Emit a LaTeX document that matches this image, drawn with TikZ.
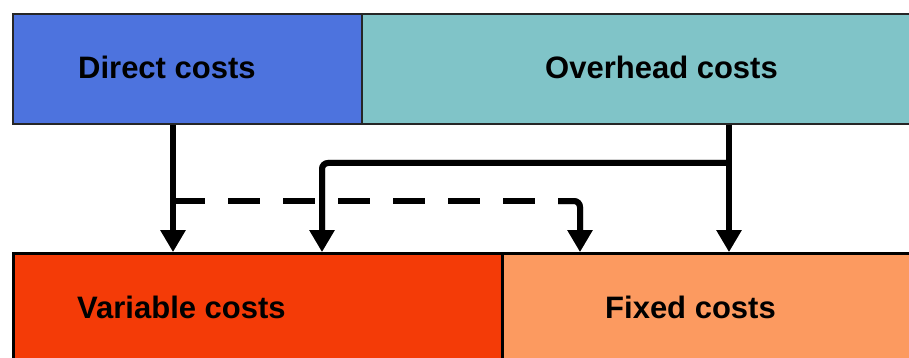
\documentclass[tikz,border=0pt]{standalone}
\usepackage{fontspec}
\setmainfont{Liberation Sans}
\usetikzlibrary{arrows.meta}
\definecolor{dblue}{RGB}{77,115,222}
\definecolor{oteal}{RGB}{128,196,200}
\definecolor{vred}{RGB}{244,59,7}
\definecolor{forange}{RGB}{252,154,96}
\definecolor{shadowgray}{RGB}{140,140,140}
\begin{document}
\begin{tikzpicture}[x=1pt,y=-1pt,
  box/.style={draw=black!85, line width=2pt, anchor=north west, inner sep=0pt, minimum height=110pt},
  lbl/.style={anchor=base west, inner sep=0pt, font=\fontsize{31}{36}\selectfont\bfseries},
  conn/.style={line width=6pt, line cap=butt},
  tipst/.style={-{Triangle[width=24pt,length=22pt]}},
  shadow/.style={preaction={draw=shadowgray, transform canvas={shift={(2.5pt,-2.5pt)}}}},
  dashst/.style={dash pattern=on 32pt off 23pt}
]
\useasboundingbox (0,0) rectangle (909,358);
\fill[white] (0,0) rectangle (909,358);
% boxes
\node[box, fill=dblue, minimum width=349pt] (direct) at (12,13) {};
\node[box, fill=oteal, minimum width=560pt] (overhead) at (361,13) {};
\node[box, fill=vred, minimum width=489pt, draw=black, line width=3pt] (variable) at (12,252) {};
\node[box, fill=forange, minimum width=420pt, draw=black, line width=3pt] (fixed) at (501,252) {};
% labels
\node[lbl] (tdirect) at (78,79) {Direct costs};
\node[lbl] (toverhead) at (545,79) {Overhead costs};
\node[lbl] (tvariable) at (77,318) {Variable costs};
\node[lbl] (tfixed) at (605,318) {Fixed costs};
% x positions
\coordinate (xd) at (173,0);
\coordinate (xo) at (729,0);
\coordinate (xv) at (322,0);
\coordinate (xf) at (580,0);
\coordinate (yh) at (0,163);
\coordinate (yd) at (0,201);
\coordinate (jo) at (xo |- yh);
\coordinate (jd) at (xd |- yd);
\coordinate (jdend) at (560,201);
\coordinate (jdcorner) at (558,201);
% shadows
\begin{scope}[shift={(2.5,2.5)}, shadowgray]
  \draw[conn, dashst] (jd) -- (jdend);
  \draw[conn, tipst, rounded corners=6pt] (jdcorner) -| (variable.north -| xf);
  \draw[conn, tipst, rounded corners=6pt] (jo) -| (variable.north -| xv);
  \draw[conn, tipst] (direct.south -| xd) -- (variable.north -| xd);
  \draw[conn, tipst] (overhead.south -| xo) -- (fixed.north -| xo);
\end{scope}
% connectors
\draw[conn, dashst] (jd) -- (jdend);
\draw[conn, tipst, rounded corners=6pt] (jdcorner) -| (variable.north -| xf);
\draw[conn, tipst, rounded corners=6pt] (jo) -| (variable.north -| xv);
\draw[conn, tipst] (direct.south -| xd) -- (variable.north -| xd);
\draw[conn, tipst] (overhead.south -| xo) -- (fixed.north -| xo);
\end{tikzpicture}
\end{document}
